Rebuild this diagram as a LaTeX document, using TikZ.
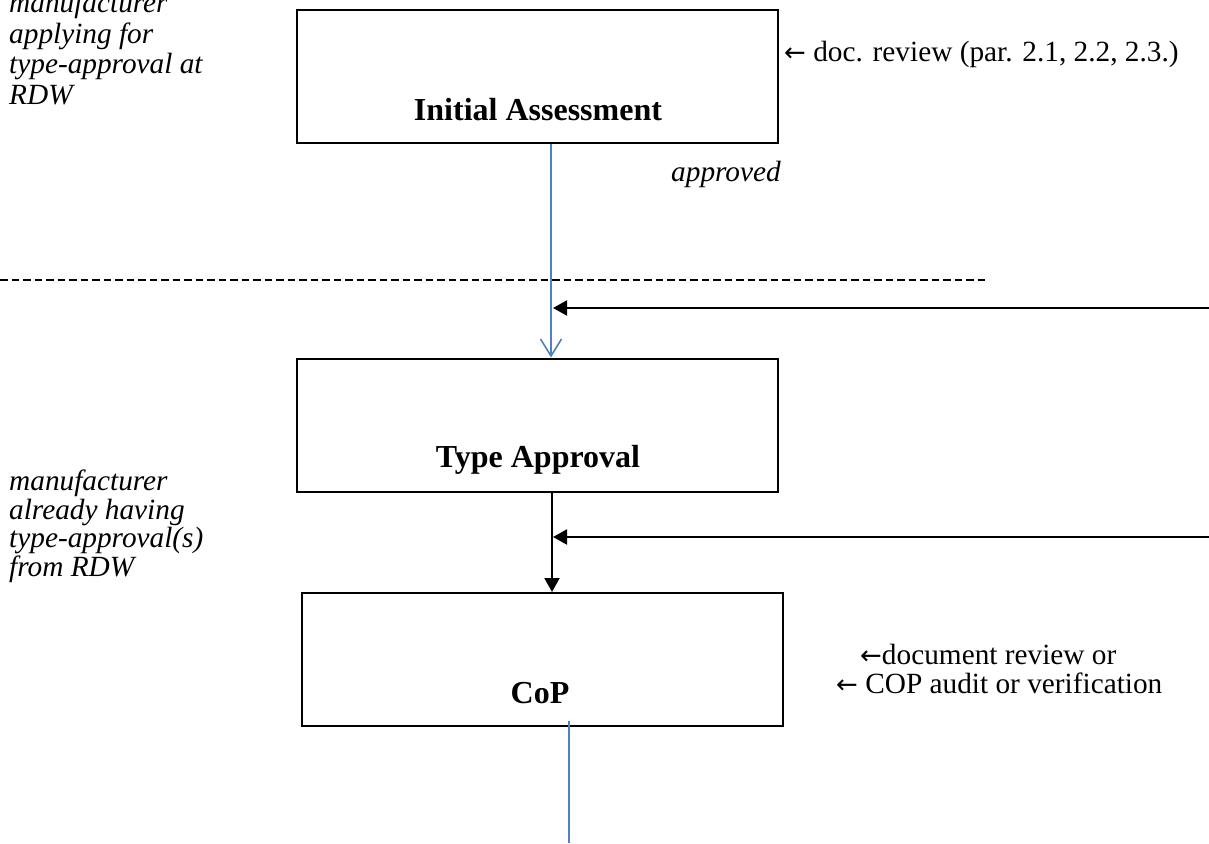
\documentclass[tikz,border=0pt]{standalone}
\usepackage{fontspec}
\setmainfont{Liberation Serif}
\newfontfamily\arrowfont{DejaVu Sans}
\usetikzlibrary{arrows.meta}
\definecolor{lblue}{HTML}{4F81BD}
\newcommand{\larr}{{\arrowfont\fontsize{26}{28}\selectfont ←}}
\tikzset{
  box/.style={draw=black, line width=2pt, minimum width=481pt, minimum height=133pt, inner sep=0pt},
  txt/.style={font=\fontsize{29.3}{28.4}\selectfont, inner sep=0pt},
  title/.style={txt, font=\fontsize{32}{34}\selectfont\bfseries},
  note/.style={txt, font=\fontsize{29.3}{28.4}\selectfont\itshape, align=left},
  blueline/.style={draw=lblue, line width=1.8pt},
  bluearrow/.style={blueline, -{Straight Barb[length=17pt,width=21pt,line width=1.6pt]}},
  blackarrow/.style={draw=black, line width=2pt, -{Triangle[length=14pt,width=15pt]}},
  dashline/.style={draw=black, line width=1.4pt, dash pattern=on 7.5pt off 4pt}
}
\begin{document}
\begin{tikzpicture}[x=1pt,y=-1pt]
\useasboundingbox (0,0) rectangle (1209,843);
% boxes
\node[box] (ia) at (537.5,76.5) {};
\node[box] (ta) at (537.5,425) {};
\node[box] (cop) at (542,659.5) {};
\node[title, anchor=base] (iat) at (538,120) {Initial Assessment};
\node[title, anchor=base] (tat) at (538,467) {Type Approval};
\node[title, anchor=base] (copt) at (540,703) {CoP};
% left notes
\node[note, font=\fontsize{29.3}{30.5}\selectfont\itshape, anchor=north west] (n1) at (9,-8) {manufacturer\\applying for\\type-approval at\\RDW};
\node[note, anchor=north west] (n2) at (9,470) {manufacturer\\already having\\type-approval(s)\\from RDW};
% right notes
\node[note, anchor=base west] (appr) at (671,181) {approved};
\node[txt, anchor=base west] (dr) at (784,61) {\larr\ doc. review (par. 2.1, 2.2, 2.3.)};
\node[txt, anchor=base west] (cr1) at (860,664) {\larr document review or};
\node[txt, anchor=base west] (cr2) at (836,693) {\larr\ COP audit or verification};
% dashed separator
\coordinate (d1) at (0,280);
\coordinate (d2) at (985,280);
\draw[dashline] (d1) -- (d2);
% blue connector
\draw[bluearrow] ([xshift=13.5pt]ia.south) -- ([xshift=13.5pt]ta.north);
% black connector
\draw[blackarrow] ([xshift=14.5pt]ta.south) -- ([xshift=10pt]cop.north);
% incoming arrows
\coordinate (r1) at (1209,308);
\coordinate (b1) at (553,308);
\draw[blackarrow] (r1) -- (b1);
\coordinate (r2) at (1209,537);
\coordinate (b2) at (553,537);
\draw[blackarrow] (r2) -- (b2);
% outgoing blue line
\coordinate (o1) at (569,721);
\coordinate (o2) at (569,843);
\draw[blueline] (o1) -- (o2);
\end{tikzpicture}
\end{document}
